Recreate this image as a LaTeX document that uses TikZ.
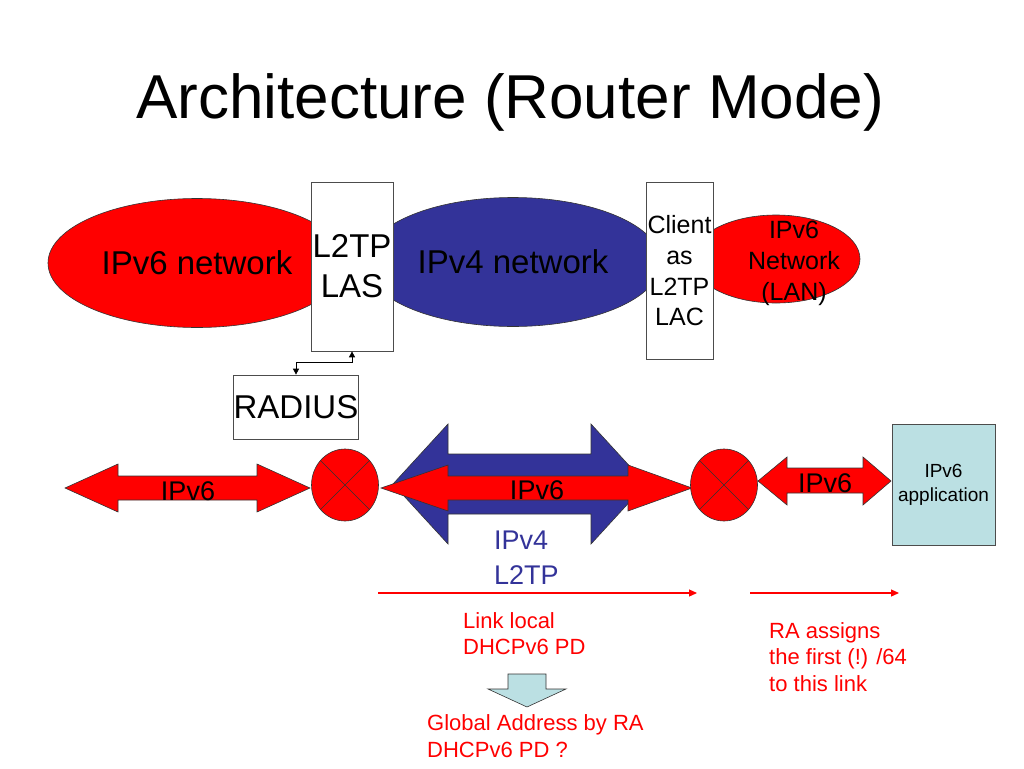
\documentclass[tikz,border=0pt]{standalone}
\usepackage{fontspec}
\setmainfont{Liberation Sans}
\usetikzlibrary{shapes.geometric,arrows.meta}
\definecolor{vsixred}{HTML}{FF0000}
\definecolor{vfourblue}{HTML}{333399}
\definecolor{appblue}{HTML}{BBE0E3}
\begin{document}
\begin{tikzpicture}[x=1pt,y=-1pt,
   net/.style={ellipse,draw=black!80,text=black,line width=0.6pt,inner sep=0pt},
   box/.style={draw=black!70,fill=white,text=black,line width=0.7pt,inner sep=0pt,align=center},
   router/.style={ellipse,draw=black!80,fill=vsixred,line width=0.6pt,inner sep=0pt,minimum width=67pt,minimum height=72pt},
   block/.style={draw=black!80,line width=0.6pt,line join=miter},
   huge/.style={font=\fontsize{33}{40}\selectfont},
   mid/.style={font=\fontsize{25}{30.7}\selectfont},
   lbl/.style={font=\fontsize{27}{35}\selectfont},
   small/.style={font=\fontsize{19}{24}\selectfont},
   note/.style={font=\fontsize{22}{26.5}\selectfont,text=vsixred,align=left,anchor=north west,inner sep=0pt},
   flow/.style={-{Triangle[length=8pt,width=7pt]},vsixred,line width=1.2pt},
   link/.style={{Triangle[length=6pt,width=6pt]}-{Triangle[length=6pt,width=6pt]},line width=0.8pt}]
\useasboundingbox (0,0) rectangle (1024,768);
% title
\node[font=\fontsize{62}{74}\selectfont,anchor=base] (title) at (510,118) {Architecture (Router Mode)};
% networks
\node[net,fill=vsixred,minimum width=298pt,minimum height=129pt,huge] (vsix) at (197,263) {IPv6 network};
\node[net,fill=vfourblue,minimum width=296pt,minimum height=129pt,huge] (vfour) at (513,262) {IPv4 network};
\node[net,fill=vsixred,minimum width=168pt,minimum height=88pt] (lan) at (776,259) {};
% L2TP boxes
\node[box,minimum width=82pt,minimum height=169pt,huge] (las) at (352,266.5) {L2TP\\LAS};
\node[box,minimum width=67pt,minimum height=177pt,mid] (lac) at (679.5,271) {Client\\as\\L2TP\\LAC};
\node[mid,text=black,align=center] (lantext) at (794,263.5) {IPv6\\Network\\(LAN)};
\node[box,minimum width=120pt,minimum height=64pt,huge] (radius) at (296,407) {RADIUS};
\draw[link] (radius.north) -- ++(0,-12) -| (las.south);
% bottom row
\fill[block,fill=vfourblue] (393,484) -- (448,424) -- (448,454) -- (591,454) -- (591,424) -- (646,484)
   -- (591,544) -- (591,514) -- (448,514) -- (448,544) -- cycle;
\fill[block,fill=vsixred] (381,488) -- (448,465) -- (448,476) -- (628,476) -- (628,465) -- (692,488)
   -- (628,511) -- (628,500) -- (448,500) -- (448,511) -- cycle;
\fill[block,fill=vsixred] (65,488) -- (118,464) -- (118,476) -- (257,476) -- (257,464) -- (310,488)
   -- (257,512) -- (257,500) -- (118,500) -- (118,512) -- cycle;
\fill[block,fill=vsixred] (758,481) -- (787,457) -- (787,468) -- (863,468) -- (863,457) -- (891,481)
   -- (863,505) -- (863,493) -- (787,493) -- (787,505) -- cycle;
\node[lbl,text=black,anchor=base] (lefttag) at (188,500) {IPv6};
\node[lbl,text=black,anchor=base] (midtag) at (537,499) {IPv6};
\node[lbl,text=black,anchor=base] (righttag) at (825,492) {IPv6};
\node[lbl,text=vfourblue,align=left,anchor=north west,inner sep=0pt] (tunnel) at (494,530.7) {IPv4\\L2TP};
\node[router] (rtA) at (345,485) {};
\node[router] (rtB) at (724,485) {};
\draw[line width=0.6pt,black!80] (rtA.45) -- (rtA.225) (rtA.135) -- (rtA.315);
\draw[line width=0.6pt,black!80] (rtB.45) -- (rtB.225) (rtB.135) -- (rtB.315);
\node[box,fill=appblue,minimum width=103pt,minimum height=121pt,small] (app) at (943.5,484.5) {IPv6\\application};
% address flows
\coordinate (lkA) at (378,593);
\coordinate (lkB) at (697,593);
\coordinate (raA) at (750,593);
\coordinate (raB) at (899,593);
\draw[flow] (lkA) -- (lkB);
\draw[flow] (raA) -- (raB);
\node[note] (linklocal) at (463,612.3) {Link local\\DHCPv6 PD};
\node[note] (assign) at (769,622) {RA assigns\\the first (!) /64\\to this link};
\fill[block,fill=appblue] (508,674) -- (546,674) -- (546,689) -- (566,689) -- (527,707) -- (488,689) -- (508,689) -- cycle;
\node[note,font=\fontsize{22}{27}\selectfont] (global) at (427,714) {Global Address by RA\\DHCPv6 PD ?};
\end{tikzpicture}
\end{document}
